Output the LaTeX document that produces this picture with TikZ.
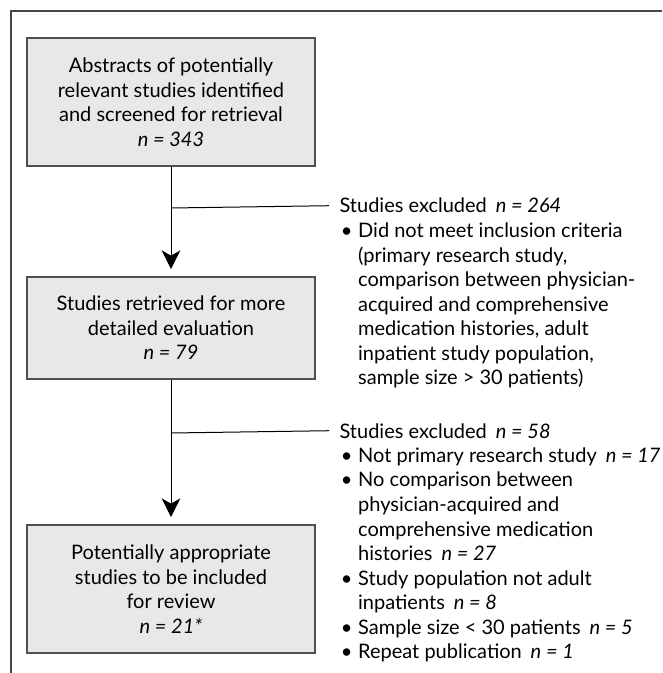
\documentclass[tikz,border=0pt]{standalone}
\usepackage{fontspec}
\setmainfont{Lato}
\usetikzlibrary{arrows.meta}

\definecolor{boxfill}{RGB}{232,232,232}
\definecolor{boxline}{RGB}{80,80,80}
\definecolor{frameline}{RGB}{70,70,70}

\newcommand{\flowfont}{\fontsize{15pt}{18.4pt}\selectfont}
\newcommand{\bul}{\makebox[14pt][l]{\hspace{1pt}\textbullet}}
\newcommand{\ind}{\hspace*{14pt}}
\newcommand{\nval}[1]{\hspace{0.45em}\textit{n = #1}}

\tikzset{every picture/.style={line width=0.75pt}}
\tikzset{
  stagebox/.style={draw=boxline, line width=1pt, fill=boxfill, minimum width=216pt,
    align=center, inner sep=0pt, font=\flowfont},
  exhead/.style={anchor=base west, inner xsep=7.5pt, inner ysep=0pt, font=\flowfont},
  exlist/.style={anchor=base west, align=left, inner sep=0pt, font=\flowfont},
  flowarrow/.style={-{Stealth[length=14pt,width=14pt,inset=4pt]}, shorten >=5.5pt},
}

\begin{document}
\begin{tikzpicture}[x=0.75pt,y=0.75pt,yscale=-1,xscale=1]
\useasboundingbox (0,0) rectangle (662,673);

% Frame
\draw [frameline, line width=1.1pt] (662,11) -- (11,11) -- (11,673) ;

% Stage boxes
\node (abstracts) [stagebox, minimum height=96pt] at (171,102)
  {Abstracts of potentially\\relevant studies identified\\and screened for retrieval\\\textit{n = 343}};
\node (retrieved) [stagebox, minimum height=76.5pt] at (171,328)
  {Studies retrieved for more\\detailed evaluation\\\textit{n = 79}};
\node (included) [stagebox, minimum height=96pt] at (171,589)
  {Potentially appropriate\\studies to be included\\for review\\\textit{n = 21*}};

% Branch points
\coordinate (br1) at (171,208);
\coordinate (br2) at (171,433);

% Excluded, first stage (list placed by its last baseline)
\node (excl1) [exhead] at (329,213) {Studies excluded\nval{264}};
\node (excl1list) [exlist] at (339,384.7)
  {\bul Did not meet inclusion criteria\\
   \ind (primary research study,\\
   \ind comparison between physician-\\
   \ind acquired and comprehensive\\
   \ind medication histories, adult\\
   \ind inpatient study population,\\
   \ind sample size > 30 patients)};

% Excluded, second stage
\node (excl2) [exhead] at (329,438) {Studies excluded\nval{58}};
\node (excl2list) [exlist] at (339,658.7)
  {\bul Not primary research study\nval{17}\\
   \bul No comparison between\\
   \ind physician-acquired and\\
   \ind comprehensive medication\\
   \ind histories\nval{27}\\
   \bul Study population not adult\\
   \ind inpatients\nval{8}\\
   \bul Sample size < 30 patients\nval{5}\\
   \bul Repeat publication\nval{1}};

% Connectors
\draw [flowarrow] (abstracts.south) -- (retrieved.north) ;
\draw [flowarrow] (retrieved.south) -- (included.north) ;
\draw (br1) -- (excl1.west) ;
\draw (br2) -- (excl2.west) ;

\end{tikzpicture}
\end{document}
